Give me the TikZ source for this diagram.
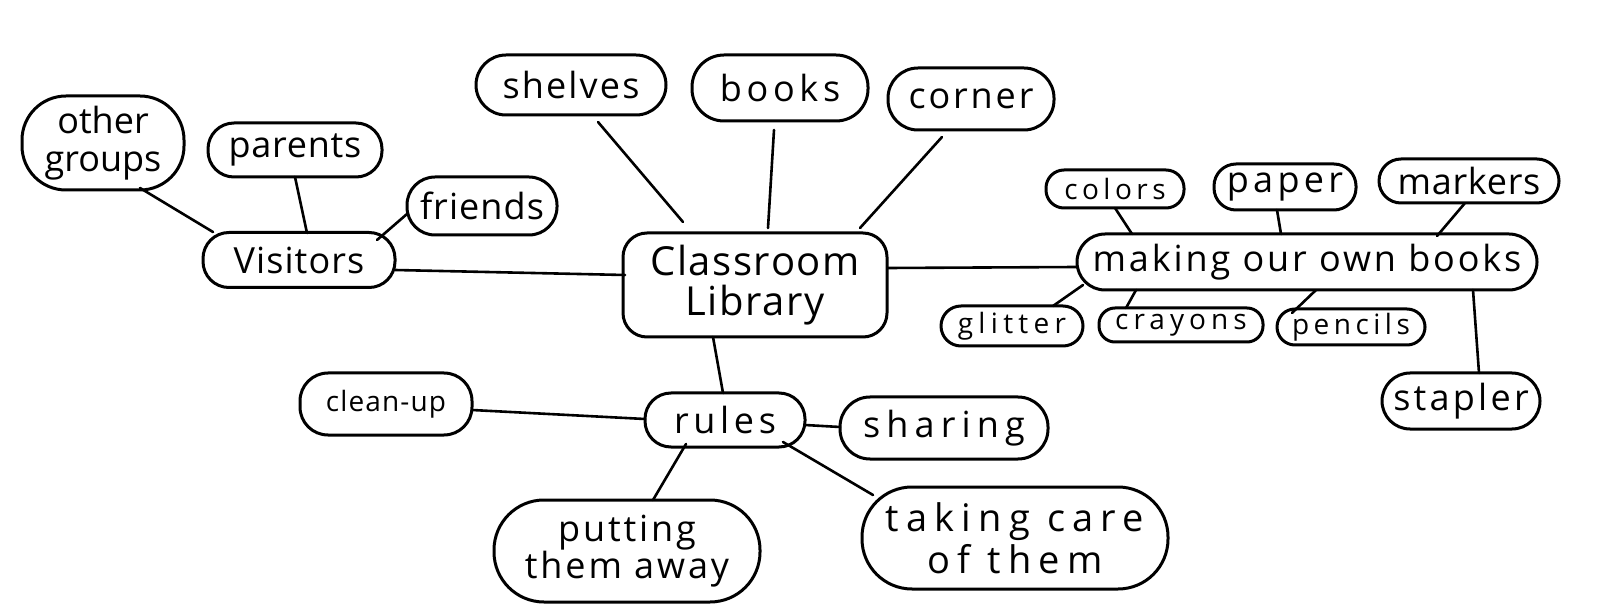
\documentclass[tikz,border=0pt]{standalone}
\usepackage{fontspec}
\usetikzlibrary{calc}
\setmainfont{Open Sans}
\newcommand{\bigf}{\fontsize{18}{21}\selectfont}
\newcommand{\smallf}{\fontsize{14}{17}\selectfont}
\newcommand{\ls}[1]{\addfontfeature{LetterSpace=#1}}
\tikzset{
  bub/.style n args={3}{draw, line width=1.5pt, rounded corners=#3, inner sep=0pt, align=center,
     minimum width=#1, minimum height=#2, font=\bigf\ls{6}},
  lnk/.style={line width=1.3pt, line cap=round},
}
\begin{document}
\begin{tikzpicture}[x=0.5pt,y=-0.5pt]
\useasboundingbox[fill=white] (0,0) rectangle (1600,614);
% centre
\node[bub={132pt}{52pt}{12pt}, font=\fontsize{20}{20}\selectfont\ls{4}] (lib) at (755,285) {Classroom\\Library};
\node[bub={95pt}{30pt}{15pt}] (shelves) at (571,85) {shelves};
\node[bub={88pt}{33pt}{16pt}, font=\bigf\ls{13}] (books) at (780,88) {books};
\node[bub={83pt}{31pt}{15pt}, font=\bigf\ls{8}] (corner) at (971,99) {corner};
% visitors
\node[bub={96pt}{27.5pt}{13pt}, font=\bigf\ls{3}] (visitors) at (299,260) {Visitors};
\node[bub={81pt}{47pt}{22pt}, font=\fontsize{18}{19}\selectfont\ls{0}] (other) at (103,143) {other\\groups};
\node[bub={87pt}{27pt}{13pt}, font=\bigf\ls{2}] (parents) at (295,150) {parents};
\node[bub={75pt}{29pt}{14pt}, font=\bigf\ls{3}] (friends) at (482,206) {friends};
% making
\node[bub={230pt}{28pt}{14pt}, font=\bigf\ls{8}] (making) at (1307,262) {making our own books};
\node[bub={69pt}{19pt}{9pt}, font=\smallf\ls{16}] (colors) at (1115,189) {colors};
\node[bub={71pt}{23pt}{11pt}, font=\bigf\ls{12}] (paper) at (1285,187) {paper};
\node[bub={90pt}{22pt}{11pt}, font=\bigf\ls{2}] (markers) at (1469,181) {markers};
\node[bub={71pt}{20pt}{10pt}, font=\smallf\ls{19}] (glitter) at (1012,326) {glitter};
\node[bub={82pt}{17pt}{8pt}, font=\smallf\ls{18}] (crayons) at (1181,325) {crayons};
\node[bub={74pt}{18pt}{9pt}, font=\smallf\ls{16}] (pencils) at (1351,327) {pencils};
\node[bub={79pt}{28pt}{14pt}, font=\bigf\ls{9}] (stapler) at (1461,401) {stapler};
% rules
\node[bub={80pt}{27pt}{13pt}, font=\bigf\ls{13}] (rules) at (725,420) {rules};
\node[bub={86pt}{31pt}{14pt}, font=\smallf\ls{4}] (cleanup) at (386,404) {clean-up};
\node[bub={104pt}{31pt}{15pt}, font=\bigf\ls{17}] (sharing) at (944,428) {sharing};
\node[bub={133pt}{51pt}{25pt}, font=\fontsize{18}{18.5}\selectfont\ls{8}] (putting) at (627,551) {putting\\them away};
\node[bub={153pt}{51pt}{25pt}, font=\fontsize{19}{21}\selectfont\ls{19}] (taking) at (1015,538) {taking care\\of them};
% links
\draw[lnk] ($(shelves)+(27,37)$) -- ($(lib)+(-72,-63)$);
\draw[lnk] ($(books)+(-6,42)$) -- ($(lib)+(13,-57)$);
\draw[lnk] ($(corner)+(-29,38)$) -- ($(lib)+(105,-57)$);
\draw[lnk] ($(visitors)+(96,10)$) -- ($(lib)+(-130,-10)$);
\draw[lnk] ($(lib)+(133,-17)$) -- ($(making)+(-230,5)$);
\draw[lnk] ($(lib)+(-42,52)$) -- ($(rules)+(-2,-27)$);
\draw[lnk] ($(other)+(37,45)$) -- ($(visitors)+(-86,-28)$);
\draw[lnk] ($(parents)+(0,27)$) -- ($(visitors)+(8,-27)$);
\draw[lnk] ($(friends)+(-75,8)$) -- ($(visitors)+(78,-20)$);
\draw[lnk] ($(colors)+(0,19)$) -- ($(making)+(-175,-28)$);
\draw[lnk] ($(paper)+(-8,23)$) -- ($(making)+(-26,-28)$);
\draw[lnk] ($(markers)+(-4,22)$) -- ($(making)+(130,-26)$);
\draw[lnk] ($(glitter)+(41,-20)$) -- ($(making)+(-224,23)$);
\draw[lnk] ($(crayons)+(-55,-17)$) -- ($(making)+(-171,28)$);
\draw[lnk] ($(pencils)+(-59,-14)$) -- ($(making)+(9,28)$);
\draw[lnk] ($(stapler)+(18,-28)$) -- ($(making)+(166,28)$);
\draw[lnk] ($(cleanup)+(86,6)$) -- ($(rules)+(-80,-1)$);
\draw[lnk] ($(rules)+(80,5)$) -- ($(sharing)+(-104,-1)$);
\draw[lnk] ($(rules)+(-39,24)$) -- ($(putting)+(26,-51)$);
\draw[lnk] ($(rules)+(58,22)$) -- ($(taking)+(-142,-43)$);
\end{tikzpicture}
\end{document}
